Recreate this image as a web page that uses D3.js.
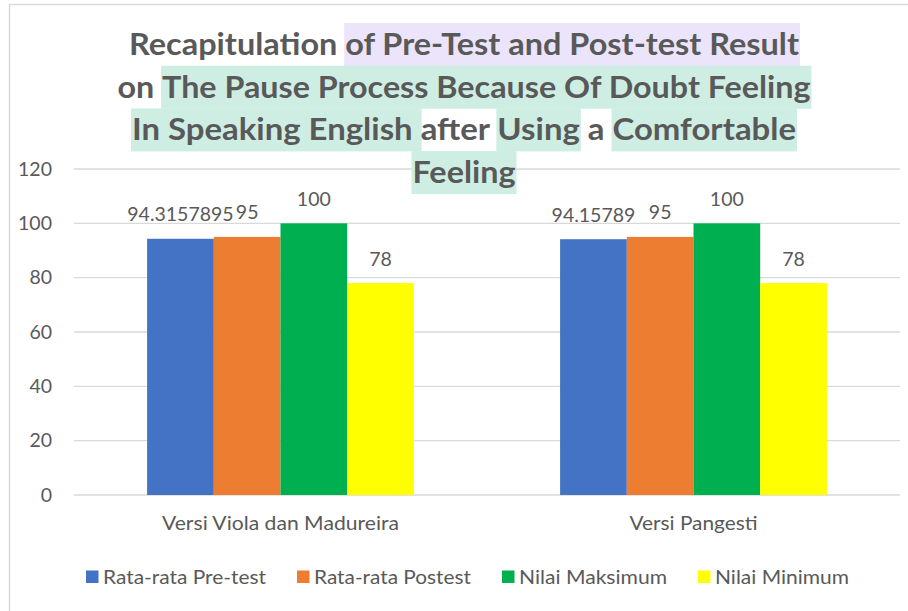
<!DOCTYPE html>
<html>
<head>
<meta charset="utf-8">
<script src="https://cdn.jsdelivr.net/npm/d3@7"></script>
<style>
  html, body { margin: 0; padding: 0; background: #fff; }
  svg { display: block; }
</style>
</head>
<body>
<script>
// ---------- data ----------
const categories = ["Versi Viola dan Madureira", "Versi Pangesti"];
const seriesNames = ["Rata-rata Pre-test", "Rata-rata Postest", "Nilai Maksimum", "Nilai Minimum"];
const preTest = [94.3157895, 94.15789];
const postTest = [95, 95];
const maxValues = [100, 100];
const minValues = [78, 78];
const seriesColors = ["#4472c4", "#ed7d31", "#00b050", "#ffff00"];
const yTicks = [0, 20, 40, 60, 80, 100, 120];
const titleLines = [
  [["Recapitulation ", null], ["of Pre-Test and Post-test Result", "p"]],
  [["on ", null], ["The Pause Process Because Of Doubt Feeling", "g"]],
  [["In Speaking English ", "g"], ["after ", null], ["Using", "g"], [" a ", null], ["Comfortable", "g"]],
  [["Feeling", "g"]]
];

const seriesValues = [preTest, postTest, maxValues, minValues];

// ---------- layout ----------
const W = 908, H = 611;
const plot = { left: 74, right: 900, top: 169, bottom: 495 };
const textColor = "#595959";
const font = "Lato, 'Open Sans', sans-serif";

const svg = d3.select("body").append("svg").attr("width", W).attr("height", H);

// stretch a text element to a target width
function fit(sel, widthFn) {
  sel.each(function (d, i) {
    const t = d3.select(this);
    const w = widthFn(d, i);
    if (w) t.attr("textLength", w).attr("lengthAdjust", "spacingAndGlyphs");
  });
}

// chart border (partially visible)
svg.append("path")
  .attr("d", `M9.5,${H} V4.5 H${W}`)
  .attr("fill", "none").attr("stroke", "#d9d9d9").attr("stroke-width", 1.5);

// scales
const y = d3.scaleLinear().domain([0, 120]).range([plot.bottom, plot.top]);
const x0 = d3.scaleBand().domain(categories).range([plot.left, plot.right])
  .paddingInner(0.354).paddingOuter(0.177);
const x1 = d3.scaleBand().domain(seriesNames).range([0, x0.bandwidth()]).padding(0);

// gridlines
svg.append("g").selectAll("line").data(yTicks).join("line")
  .attr("x1", plot.left).attr("x2", plot.right)
  .attr("y1", d => y(d)).attr("y2", d => y(d))
  .attr("stroke", "#d9d9d9").attr("stroke-width", 1.3);

// y axis labels
const yAxis = d3.axisLeft(y).tickValues(yTicks).tickSize(0).tickPadding(0);
const yg = svg.append("g").attr("transform", "translate(52,0)").call(yAxis);
yg.select(".domain").remove();
yg.selectAll("text").attr("font-family", font).attr("font-size", 19.5).attr("fill", textColor);

// bars
const rows = categories.map((c, i) => ({ c, vals: seriesNames.map((s, j) => ({ s, v: seriesValues[j][i], j })) }));
const groups = svg.append("g").selectAll("g").data(rows).join("g")
  .attr("transform", d => `translate(${x0(d.c)},0)`);
groups.selectAll("rect").data(d => d.vals).join("rect")
  .attr("x", d => x1(d.s)).attr("width", x1.bandwidth())
  .attr("y", d => y(d.v)).attr("height", d => y(0) - y(d.v))
  .attr("fill", d => seriesColors[d.j]);
groups.selectAll("text").data(d => d.vals).join("text")
  .attr("x", d => x1(d.s) + x1.bandwidth() / 2)
  .attr("y", d => y(d.v) - 17.5)
  .attr("text-anchor", "middle")
  .attr("font-family", font).attr("font-size", 19.5).attr("fill", textColor)
  .text(d => String(d.v));

// category axis labels
const catWidths = [237, 128];
const xAxis = d3.axisBottom(x0).tickSize(0).tickPadding(0);
const xg = svg.append("g").attr("transform", `translate(0,${plot.bottom})`).call(xAxis);
xg.select(".domain").remove();
xg.selectAll("text").attr("font-family", font).attr("font-size", 20).attr("fill", textColor)
  .attr("dy", null).attr("y", 35);
fit(xg.selectAll("text"), (d, i) => catWidths[i]);

// legend
const legendX = [86, 297, 502, 698];
const legendTextW = [163, 157, 148, 134];
const lg = svg.append("g").selectAll("g").data(seriesNames).join("g")
  .attr("transform", (d, i) => `translate(${legendX[i]},0)`);
lg.append("rect").attr("x", 0).attr("y", 570.5).attr("width", 12.5).attr("height", 12.5)
  .attr("fill", (d, i) => seriesColors[i]);
const lt = lg.append("text").attr("x", 17).attr("y", 584)
  .attr("font-family", font).attr("font-size", 20).attr("fill", textColor)
  .text(d => d);
fit(lt, (d, i) => legendTextW[i]);

// title
const titleCenter = 464;
const baseline0 = 55, lineGap = 42.7;
const titleSize = 30;
const hlColor = { p: "#ece4fb", g: "#ceeee3" };
const tg = svg.append("g");
const measure = svg.append("text").attr("font-family", font).attr("font-weight", 700)
  .attr("font-size", titleSize).attr("visibility", "hidden");
const segW = s => { measure.text(s.replace(/ /g, "\u00a0")); return measure.node().getComputedTextLength(); };
const natural = titleLines.map(line => line.map(seg => segW(seg[0])));
const lineWidthsTarget = [670, 693, 664, 103];
titleLines.forEach((line, li) => {
  const total = d3.sum(natural[li]);
  const s = lineWidthsTarget[li] / total;
  let xx = titleCenter - lineWidthsTarget[li] / 2;
  const by = baseline0 + li * lineGap;
  line.forEach((seg, si) => {
    const w = natural[li][si] * s;
    if (seg[1]) {
      tg.append("rect").attr("x", xx - 1).attr("y", by - 32).attr("width", w + 2).attr("height", 43)
        .attr("fill", hlColor[seg[1]]);
    }
    tg.append("text").attr("x", xx).attr("y", by)
      .attr("font-family", font).attr("font-weight", 700).attr("font-size", titleSize)
      .attr("fill", textColor).attr("xml:space", "preserve")
      .attr("textLength", w).attr("lengthAdjust", "spacingAndGlyphs")
      .text(seg[0].replace(/ /g, "\u00a0"));
    xx += w;
  });
});
measure.remove();
tg.selectAll("text").raise();
</script>
</body>
</html>
